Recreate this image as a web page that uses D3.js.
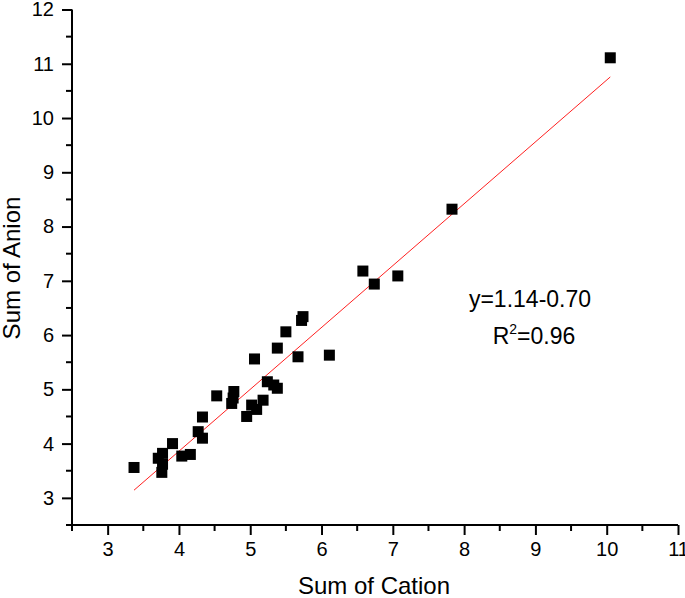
<!DOCTYPE html>
<html>
<head>
<meta charset="utf-8">
<script src="https://cdn.jsdelivr.net/npm/d3@7"></script>
<style>
  html, body { margin: 0; padding: 0; background: #fff; }
  text { font-family: "Liberation Sans", Arial, sans-serif; fill: #000; }
</style>
</head>
<body>
<svg id="chart" width="685" height="598"></svg>
<script>
// Data
const cation = [3.37, 3.71, 3.77, 3.77, 3.76, 3.91, 4.04, 4.16, 4.27, 4.33, 4.33,
                4.53, 4.74, 4.76, 4.77, 4.95, 5.02, 5.09, 5.18, 5.06, 5.24, 5.33, 5.38,
                5.38, 5.50, 5.67, 5.72, 5.74, 6.11, 6.58, 6.74, 7.07, 7.83, 10.05];
const anion  = [3.56, 3.73, 3.82, 3.62, 3.47, 4.00, 3.77, 3.80, 4.22, 4.10, 4.49,
                4.88, 4.74, 4.84, 4.96, 4.50, 4.71, 4.63, 4.80, 5.56, 5.14, 5.08, 5.02,
                5.76, 6.06, 5.60, 6.27, 6.34, 5.63, 7.18, 6.94, 7.09, 8.32, 11.11];
const fitSlope = 1.14, fitIntercept = -0.70;
const xTicks = [3, 4, 5, 6, 7, 8, 9, 10, 11];
const yTicks = [3, 4, 5, 6, 7, 8, 9, 10, 11, 12];
const xMinor = [2.5, 3.5, 4.5, 5.5, 6.5, 7.5, 8.5, 9.5, 10.5];
const yMinor = [2.5, 3.5, 4.5, 5.5, 6.5, 7.5, 8.5, 9.5, 10.5, 11.5];
const eqText = "y=1.14-0.70";
const r2Value = "=0.96";

const svg = d3.select("#chart");
const pLeft = 72, pRight = 678, pTop = 9.5, pBottom = 525;
const x = d3.scaleLinear().domain([2.5, 11]).range([pLeft, pRight]);
const y = d3.scaleLinear().domain([2.5, 12]).range([pBottom, pTop]);

// Axes
const xAxis = d3.axisBottom(x).tickValues(xTicks).tickSize(10).tickPadding(7).tickFormat(d3.format("d"));
const yAxis = d3.axisLeft(y).tickValues(yTicks).tickSize(10).tickPadding(8).tickFormat(d3.format("d"));

const gx = svg.append("g").attr("transform", `translate(0,${pBottom})`).call(xAxis);
const gy = svg.append("g").attr("transform", `translate(${pLeft},0)`).call(yAxis);
[gx, gy].forEach(g => {
  g.select(".domain").attr("stroke", "#000").attr("stroke-width", 2);
  g.selectAll(".tick line").attr("stroke", "#000").attr("stroke-width", 2);
  g.selectAll(".tick text").attr("font-size", 20).attr("font-family", "Liberation Sans, Arial, sans-serif").attr("fill", "#000");
});
gx.select(".domain").attr("d", `M${pLeft},0H${pRight}`);
gy.select(".domain").attr("d", `M0,${pBottom}V${pTop}`);

// minor ticks
svg.append("g").selectAll("line").data(xMinor).join("line")
  .attr("x1", d => x(d)).attr("x2", d => x(d))
  .attr("y1", pBottom).attr("y2", pBottom + 6)
  .attr("stroke", "#000").attr("stroke-width", 2);
svg.append("g").selectAll("line").data(yMinor).join("line")
  .attr("y1", d => y(d)).attr("y2", d => y(d))
  .attr("x1", pLeft).attr("x2", pLeft - 6)
  .attr("stroke", "#000").attr("stroke-width", 2);

// axis titles
svg.append("text").attr("x", 374).attr("y", 594)
  .attr("text-anchor", "middle").attr("font-size", 24).text("Sum of Cation");
svg.append("text").attr("transform", `translate(20,268) rotate(-90)`)
  .attr("text-anchor", "middle").attr("font-size", 24).text("Sum of Anion");

// Fit line
const xMin = d3.min(cation), xMax = d3.max(cation);
svg.append("line")
  .attr("x1", x(xMin)).attr("y1", y(fitSlope * xMin + fitIntercept))
  .attr("x2", x(xMax)).attr("y2", y(fitSlope * xMax + fitIntercept))
  .attr("stroke", "#ff2020").attr("stroke-width", 1);

// Points
const pts = cation.map((c, i) => ({ c, a: anion[i] }));
const s = 11;
svg.append("g").selectAll("rect").data(pts).join("rect")
  .attr("x", d => x(d.c) - s / 2).attr("y", d => y(d.a) - s / 2)
  .attr("width", s).attr("height", s).attr("fill", "#000");

// Equation text
svg.append("text").attr("x", 530).attr("y", 307).attr("text-anchor", "middle")
  .attr("font-size", 23).text(eqText);
const r2 = svg.append("text").attr("x", 534).attr("y", 344).attr("text-anchor", "middle")
  .attr("font-size", 23);
r2.append("tspan").text("R");
r2.append("tspan").attr("font-size", 14).attr("dy", -10).text("2");
r2.append("tspan").attr("dy", 10).text(r2Value);
</script>
</body>
</html>
